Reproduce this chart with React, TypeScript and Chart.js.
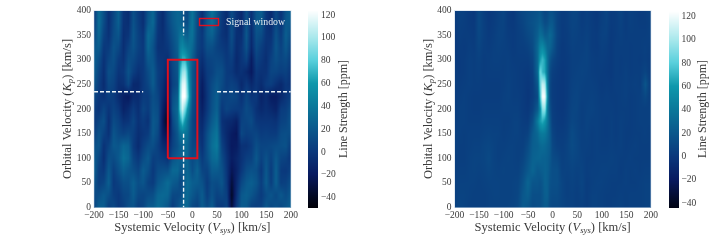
import React, { useEffect, useRef } from "react";
import { Chart, registerables } from "chart.js";

Chart.register(...registerables);

// Velocity grid of the maps (finer near the signal)
const vsysGrid = [-200,-190,-180,-170,-160,-150,-140,-130,-120,-110,-100,-90,-80,-70,-60,-50,-40,-30,-25,-20,-15,-10,-5,0,10,20,30,40,50,60,70,80,90,100,110,120,130,140,150,160,170,180,190,200];
const kpGrid = [400, 375, 350, 325, 300, 275, 250, 225, 200, 175, 150, 125, 100, 75, 50, 25, 0];

// Left map: line strength [ppm], one row per Kp, from 400 to 0
const leftMap = [
  [-2,32,14,-6,8,24,-2,-8,14,2,-6,16,28,2,-8,10,22,28,26,18,10,10,26,36,14,-6,16,36,20,2,-8,12,-2,-10,14,-4,18,24,0,-10,10,-4,16,26],
  [0,34,12,-6,10,24,-4,-6,16,4,-6,20,30,0,-8,8,20,28,28,22,14,14,30,38,12,-4,20,34,16,0,-8,14,-4,-10,16,-6,20,20,-2,-8,12,-2,20,20],
  [8,30,6,-4,12,18,-6,-2,18,6,-2,30,22,-2,-6,4,16,26,36,38,26,24,34,36,10,0,20,26,10,-2,-6,14,-6,-6,20,-8,16,12,-2,-4,16,2,24,12],
  [18,24,0,2,16,10,-6,6,16,6,0,28,16,-4,-4,0,12,24,44,50,44,38,36,30,8,0,14,14,6,2,-2,10,-8,-2,16,-10,12,4,-4,0,18,6,20,6],
  [24,14,-4,8,14,2,-4,12,10,2,0,20,18,0,-2,-6,10,20,54,70,70,54,38,24,4,-6,6,8,10,8,0,4,-10,-2,6,-18,6,0,-6,6,14,8,12,2],
  [24,8,-6,14,10,-2,0,16,4,-4,0,12,22,4,-2,-14,8,18,70,96,100,70,40,20,2,-12,2,6,14,14,2,0,-8,-4,-10,-20,0,-4,-4,8,8,4,6,-2],
  [18,4,-8,10,6,-6,-4,10,-10,-10,0,8,22,4,-6,-22,6,14,85,116,118,80,45,20,2,-18,0,12,20,12,2,6,2,-10,0,-10,-2,-8,2,4,-4,-10,0,-4],
  [10,0,-4,4,2,-8,-16,-20,-8,-8,2,2,14,8,-10,-26,14,24,90,125,125,90,50,18,0,-20,-2,14,24,6,6,10,8,-4,8,-2,0,-14,-8,-18,-18,-10,-2,4],
  [4,-2,8,-2,6,0,-14,-8,2,-6,8,2,16,12,-16,-34,18,30,85,110,88,60,36,14,0,-16,0,16,26,0,8,4,2,2,12,6,-4,-10,-6,-10,-14,2,4,12],
  [0,8,14,-6,12,6,-4,-2,8,-4,2,-4,20,14,-22,-42,10,28,60,78,58,40,24,10,-2,-10,6,22,32,-4,-8,-10,-16,6,8,12,0,-2,-2,-2,-4,6,8,16],
  [4,16,6,-4,18,10,6,10,4,-6,-2,2,20,10,-18,-28,4,20,36,40,38,34,20,10,0,-6,14,30,38,0,-10,-18,-22,10,4,6,8,2,4,2,2,12,14,12],
  [14,18,-4,6,20,18,28,24,2,-8,4,12,14,4,-8,-14,6,16,24,26,32,28,18,10,8,-4,16,34,42,6,-8,-20,-18,-4,-4,2,14,8,8,10,12,14,16,2],
  [22,10,-6,14,12,20,34,28,8,0,12,20,4,6,2,-4,16,24,26,28,30,28,16,12,18,2,14,30,34,12,-4,-18,-12,-4,4,6,20,6,16,6,20,8,6,-2],
  [26,4,0,20,4,14,24,18,14,8,22,14,0,12,14,14,30,30,20,20,24,28,22,14,26,8,6,22,22,16,-2,-24,-14,0,12,16,14,0,20,2,24,2,0,6],
  [18,4,8,24,0,6,14,14,24,14,18,6,2,18,24,32,22,18,10,14,26,32,28,24,22,16,2,14,12,18,0,-32,-10,10,20,24,18,4,22,4,24,4,6,14],
  [10,14,20,14,4,0,8,10,22,10,8,12,14,28,30,28,10,10,12,20,28,30,24,20,12,22,4,16,6,10,4,-38,-6,20,24,18,10,2,12,18,10,20,12,20],
  [6,24,22,4,10,0,4,14,16,4,8,22,22,32,26,18,2,14,22,26,30,28,18,10,6,22,12,22,2,0,8,-32,2,22,20,6,4,6,20,10,16,10,18,24],
];

// Right map: line strength [ppm], one row per Kp, from 400 to 0
const rightMap = [
  [2,6,5,2,0,10,4,0,2,5,8,2,0,6,10,12,14,16,18,12,8,10,15,14,8,2,4,8,8,2,5,2,0,4,8,2,3,7,2,5,4,2,3,6],
  [2,5,4,2,1,11,5,1,3,6,7,2,1,5,8,13,16,20,24,18,12,14,20,20,7,2,4,8,7,3,5,3,1,5,7,2,3,6,2,5,4,3,3,5],
  [1,4,3,3,2,10,5,2,4,7,6,3,2,4,6,10,14,24,34,30,22,24,30,24,8,2,3,7,6,4,6,3,2,6,6,1,3,5,3,4,4,4,4,5],
  [1,3,2,4,3,8,4,3,5,6,5,4,2,4,4,6,12,30,48,52,42,30,28,20,6,1,3,6,5,5,7,3,2,5,4,1,4,4,4,3,4,4,5,4],
  [2,2,3,5,4,6,3,4,5,5,4,5,3,3,3,3,8,30,62,72,62,35,18,10,4,1,2,5,5,6,7,4,3,4,3,1,4,3,4,3,4,3,5,3],
  [3,2,3,5,4,5,3,4,4,4,4,5,4,3,2,1,5,30,90,70,65,35,12,5,2,0,2,5,6,7,6,4,3,3,2,1,4,3,5,3,4,4,8,3],
  [3,3,4,5,4,4,3,3,3,3,4,6,4,3,2,0,3,20,85,110,100,42,10,3,1,0,2,6,7,6,5,5,4,2,3,2,4,4,5,4,5,4,18,3],
  [3,4,5,4,3,3,3,3,3,3,5,6,4,4,2,-1,3,12,75,125,120,50,10,3,1,0,2,7,8,5,5,6,5,3,4,3,3,4,5,3,4,5,10,4],
  [3,5,5,4,3,3,4,4,4,4,5,5,5,5,2,0,6,22,50,95,95,40,15,4,1,0,3,8,8,4,6,7,5,4,4,4,3,4,4,3,4,5,5,5],
  [4,5,5,4,4,4,5,5,5,5,4,4,6,6,3,2,14,42,62,68,58,40,20,5,2,1,4,9,7,4,7,5,5,4,3,5,3,5,4,3,4,5,5,5],
  [5,5,4,5,5,5,6,7,6,6,4,5,6,6,4,6,22,30,40,42,40,32,22,8,3,3,5,12,8,5,6,4,5,4,3,5,3,5,3,3,4,4,5,4],
  [5,4,4,5,6,6,8,9,7,5,5,6,6,5,5,12,24,26,30,32,30,26,22,10,5,4,7,12,9,5,5,4,5,4,4,5,4,5,3,4,5,4,4,4],
  [4,4,4,6,7,7,8,11,7,5,6,7,6,5,8,16,26,28,28,26,26,24,20,12,10,5,7,10,8,6,4,4,5,5,5,6,5,4,4,5,4,4,4,4],
  [4,5,5,6,7,6,7,9,7,6,7,6,6,6,12,20,28,20,22,24,26,24,18,14,14,6,6,8,6,7,4,5,5,6,6,5,5,3,5,4,5,4,5,5],
  [5,6,6,6,6,5,6,7,7,7,6,6,7,8,16,28,18,18,16,20,26,24,16,14,14,8,5,7,5,8,3,5,6,6,5,4,4,4,5,4,4,5,6,6],
  [5,7,7,6,5,5,5,6,7,7,6,6,7,9,20,24,14,14,14,18,24,24,14,12,12,8,5,6,4,7,3,6,6,5,4,4,4,5,4,5,5,5,6,6],
  [6,8,7,5,5,5,5,6,6,6,6,7,8,11,22,18,12,14,14,18,22,20,12,10,10,8,6,6,4,5,3,6,6,5,4,4,5,6,4,5,5,5,6,7],
];

// Colour bar
const colorbarLevels = [-50,-42,-34,-26,-18,-10,-2,6,14,22,30,38,46,54,62,70,78,86,94,102,110,118,126];
const colorbarTicks = [-40,-20,0,20,40,60,80,100,120];

// Colour map: [value, r, g, b]
const colorStops = [
  [-49, 0, 0, 8],
  [-40, 2, 8, 32],
  [-20, 8, 26, 96],
  [0, 10, 56, 124],
  [20, 10, 88, 140],
  [40, 10, 120, 154],
  [60, 15, 152, 172],
  [80, 88, 208, 220],
  [100, 168, 232, 236],
  [124, 255, 255, 255],
];

// Overlays
const signalWindowVsys = [-50, 10, 10, -50, -50];
const signalWindowKp = [100, 100, 300, 300, 100];
const expectedVsys = -18;
const expectedKp = 235;
const dashedKpRanges = [[400, 350], [150, 0]];
const dashedVsysRanges = [[-200, -100], [50, 200]];

const SERIF = "'Liberation Serif'";
const TEXT = "#3a3a3a";
const tickFmt = (v: any) => String(v).replace("-", "\u2212");

function colorOf(v: number) {
  const s = colorStops;
  if (v <= s[0][0]) return s[0].slice(1);
  for (let i = 1; i < s.length; i++) {
    if (v <= s[i][0]) {
      const t = (v - s[i - 1][0]) / (s[i][0] - s[i - 1][0]);
      return [1, 2, 3].map((k) => s[i - 1][k] + t * (s[i][k] - s[i - 1][k]));
    }
  }
  return s[s.length - 1].slice(1);
}

function locate(grid: number[], v: number): [number, number, number] {
  if (grid.length === 1 || v <= grid[0]) return [0, 0, 0];
  for (let i = 1; i < grid.length; i++) {
    if (v <= grid[i]) return [i - 1, i, (v - grid[i - 1]) / (grid[i] - grid[i - 1])];
  }
  return [grid.length - 1, grid.length - 1, 0];
}

// Paints the "cells" dataset as an image, interpolating its values in between
const heatmapPlugin = {
  id: "heatmap",
  beforeDatasetsDraw(chart: any) {
    const pts: any[] = chart.data.datasets[0].data;
    const xs = [...new Set(pts.map((p) => p.x))].sort((a: any, b: any) => a - b) as number[];
    const ys = [...new Set(pts.map((p) => p.y))].sort((a: any, b: any) => a - b) as number[];
    const vals = new Map<string, number>();
    pts.forEach((p) => vals.set(p.x + "|" + p.y, p.v));
    const a = chart.chartArea;
    const w = Math.ceil(a.right - a.left);
    const h = Math.ceil(a.bottom - a.top);
    const off = document.createElement("canvas");
    off.width = w;
    off.height = h;
    const octx = off.getContext("2d")!;
    const img = octx.createImageData(w, h);
    const { x: sx, y: sy } = chart.scales;
    for (let py = 0; py < h; py++) {
      const [j0, j1, tj] = locate(ys, sy.getValueForPixel(a.top + py + 0.5));
      for (let px = 0; px < w; px++) {
        const [i0, i1, ti] = locate(xs, sx.getValueForPixel(a.left + px + 0.5));
        const v00 = vals.get(xs[i0] + "|" + ys[j0])!;
        const v10 = vals.get(xs[i1] + "|" + ys[j0])!;
        const v01 = vals.get(xs[i0] + "|" + ys[j1])!;
        const v11 = vals.get(xs[i1] + "|" + ys[j1])!;
        const v = (v00 * (1 - ti) + v10 * ti) * (1 - tj) + (v01 * (1 - ti) + v11 * ti) * tj;
        const c = colorOf(v);
        const o = (py * w + px) * 4;
        img.data[o] = c[0];
        img.data[o + 1] = c[1];
        img.data[o + 2] = c[2];
        img.data[o + 3] = 255;
      }
    }
    octx.putImageData(img, 0, 0);
    chart.ctx.drawImage(off, a.left, a.top, a.right - a.left, a.bottom - a.top);
  },
};

type Run = { text: string; italic?: boolean; sub?: boolean };

function drawRuns(ctx: any, runs: Run[], cx: number, cy: number, rot: number, size: number) {
  ctx.save();
  ctx.translate(cx, cy);
  ctx.rotate(rot);
  ctx.fillStyle = TEXT;
  ctx.textBaseline = "alphabetic";
  ctx.textAlign = "left";
  const fontOf = (r: Run) => `${r.italic ? "italic " : ""}${r.sub ? size * 0.7 : size}px ${SERIF}`;
  let w = 0;
  runs.forEach((r) => {
    ctx.font = fontOf(r);
    w += ctx.measureText(r.text).width;
  });
  let x = -w / 2;
  runs.forEach((r) => {
    ctx.font = fontOf(r);
    ctx.fillText(r.text, x, size * 0.33 + (r.sub ? size * 0.18 : 0));
    x += ctx.measureText(r.text).width;
  });
  ctx.restore();
}

const xTitle: Run[] = [
  { text: "Systemic Velocity (" },
  { text: "V", italic: true },
  { text: "sys", italic: true, sub: true },
  { text: ") [km/s]" },
];
const yTitle: Run[] = [
  { text: "Orbital Velocity (" },
  { text: "K", italic: true },
  { text: "p", italic: true, sub: true },
  { text: ") [km/s]" },
];
const cbTitle: Run[] = [{ text: "Line Strength [ppm]" }];

function cells(rows: number[][], xs: number[], ys: number[]) {
  const out: any[] = [];
  rows.forEach((row, j) => row.forEach((v, i) => out.push({ x: xs[i], y: ys[j], v })));
  return out;
}

const baseOptions = {
  responsive: false,
  animation: false as const,
  events: [] as string[],
  plugins: { legend: { display: false }, tooltip: { enabled: false } },
};

function axisTicks(extra = {}) {
  return { color: TEXT, font: { family: SERIF, size: 9.5 }, maxRotation: 0, autoSkip: false, callback: tickFmt, ...extra };
}

function makeMap(canvas: HTMLCanvasElement, rows: number[][], opts: { left: number; right: number; annotate: boolean }) {
  const H = 243;
  const lineSets: any[] = [];
  if (opts.annotate) {
    const dash = { showLine: true, pointRadius: 0, borderColor: "#eef5f8", borderWidth: 1.4, borderDash: [4, 2], fill: false };
    dashedVsysRanges.forEach((r) =>
      lineSets.push({ label: "dash", data: r.map((x) => ({ x, y: expectedKp })), ...dash })
    );
    dashedKpRanges.forEach((r) =>
      lineSets.push({ label: "dash", data: r.map((y) => ({ x: expectedVsys, y })), ...dash })
    );
    lineSets.push({
      label: "Signal window",
      data: signalWindowVsys.map((x, i) => ({ x, y: signalWindowKp[i] })),
      showLine: true,
      pointRadius: 0,
      borderColor: "#e0101e",
      borderWidth: 2,
      fill: false,
    });
  }
  const overlay = {
    id: "overlay",
    afterDraw(chart: any) {
      const a = chart.chartArea;
      const ctx = chart.ctx;
      ctx.save();
      ctx.strokeStyle = "rgba(200,215,230,0.55)";
      ctx.lineWidth = 1;
      ctx.strokeRect(a.left, a.top, a.right - a.left, a.bottom - a.top);
      if (opts.annotate) {
        ctx.strokeStyle = "#e0101e";
        ctx.lineWidth = 1.4;
        ctx.strokeRect(a.left + 105.5, a.top + 8, 19, 7);
        ctx.fillStyle = "#e6eef2";
        ctx.font = `9.8px ${SERIF}`;
        ctx.textBaseline = "middle";
        ctx.textAlign = "left";
        ctx.fillText("Signal window", a.left + 132, a.top + 12);
      }
      ctx.restore();
      const cx = (a.left + a.right) / 2;
      drawRuns(ctx, xTitle, cx, 227, 0, 12.5);
      drawRuns(ctx, yTitle, a.left - 27, (a.top + a.bottom) / 2, -Math.PI / 2, 12.5);
    },
  };
  return new Chart(canvas, {
    type: "scatter",
    data: {
      datasets: [
        { label: "cells", data: cells(rows, vsysGrid, kpGrid), pointRadius: 0, showLine: false } as any,
        ...lineSets,
      ],
    },
    options: {
      ...baseOptions,
      layout: { padding: { left: 0, top: 10.5, right: canvas.width - opts.right, bottom: 0 } },
      scales: {
        x: {
          type: "linear",
          min: -200,
          max: 200,
          afterFit: (s: any) => { s.height = H - 207.5; },
          grid: { display: false, drawTicks: false },
          border: { display: false },
          ticks: axisTicks({ stepSize: 50, padding: 2 }),
        },
        y: {
          type: "linear",
          min: 0,
          max: 400,
          afterFit: (s: any) => { s.width = opts.left; },
          grid: { display: false, drawTicks: false },
          border: { display: false },
          ticks: axisTicks({ stepSize: 50, padding: 3 }),
        },
      },
    } as any,
    plugins: [heatmapPlugin, overlay],
  } as any);
}

function makeBar(canvas: HTMLCanvasElement, barLeft: number, min: number, max: number, titleX: number) {
  const H = 243;
  const overlay = {
    id: "barTitle",
    afterDraw(chart: any) {
      drawRuns(chart.ctx, cbTitle, titleX, 109, -Math.PI / 2, 12);
    },
  };
  return new Chart(canvas, {
    type: "scatter",
    data: {
      datasets: [
        {
          label: "cells",
          data: colorbarLevels.map((v) => ({ x: 0.5, y: v, v })),
          pointRadius: 0,
          showLine: false,
        } as any,
      ],
    },
    options: {
      ...baseOptions,
      layout: { padding: { left: barLeft, top: 10.5, right: 0, bottom: H - 208 } },
      scales: {
        x: { type: "linear", min: 0, max: 1, display: false },
        y: {
          type: "linear",
          position: "right",
          min,
          max,
          afterBuildTicks: (s: any) => { s.ticks = colorbarTicks.map((value) => ({ value })); },
          afterFit: (s: any) => { s.width = canvas.width - barLeft - 10; },
          grid: { display: false, drawTicks: false },
          border: { display: false },
          ticks: axisTicks({ padding: 3 }),
        },
      },
    } as any,
    plugins: [heatmapPlugin, overlay],
  } as any);
}

const canvasStyle = (left: number, width: number): React.CSSProperties => ({
  position: "absolute",
  left,
  top: 0,
  width,
  height: 243,
  display: "block",
  filter: "blur(0.35px)",
});

export default function App() {
  const a = useRef<HTMLCanvasElement>(null);
  const b = useRef<HTMLCanvasElement>(null);
  const c = useRef<HTMLCanvasElement>(null);
  const d = useRef<HTMLCanvasElement>(null);

  useEffect(() => {
    const charts = [
      makeMap(a.current!, leftMap, { left: 94, right: 291.5, annotate: true }),
      makeBar(b.current!, 8, -49, 124, 43),
      makeMap(c.current!, rightMap, { left: 90.5, right: 288, annotate: false }),
      makeBar(d.current!, 8.5, -44, 125, 42),
    ];
    return () => charts.forEach((ch) => ch.destroy());
  }, []);

  return (
    <div style={{ position: "fixed", left: 0, top: 0, width: 728, height: 243, background: "#fff", overflow: "hidden" }}>
      <canvas ref={a} width={300} height={243} style={canvasStyle(0, 300)} />
      <canvas ref={b} width={64} height={243} style={canvasStyle(300, 64)} />
      <canvas ref={c} width={296} height={243} style={canvasStyle(364, 296)} />
      <canvas ref={d} width={68} height={243} style={canvasStyle(660, 68)} />
    </div>
  );
}
